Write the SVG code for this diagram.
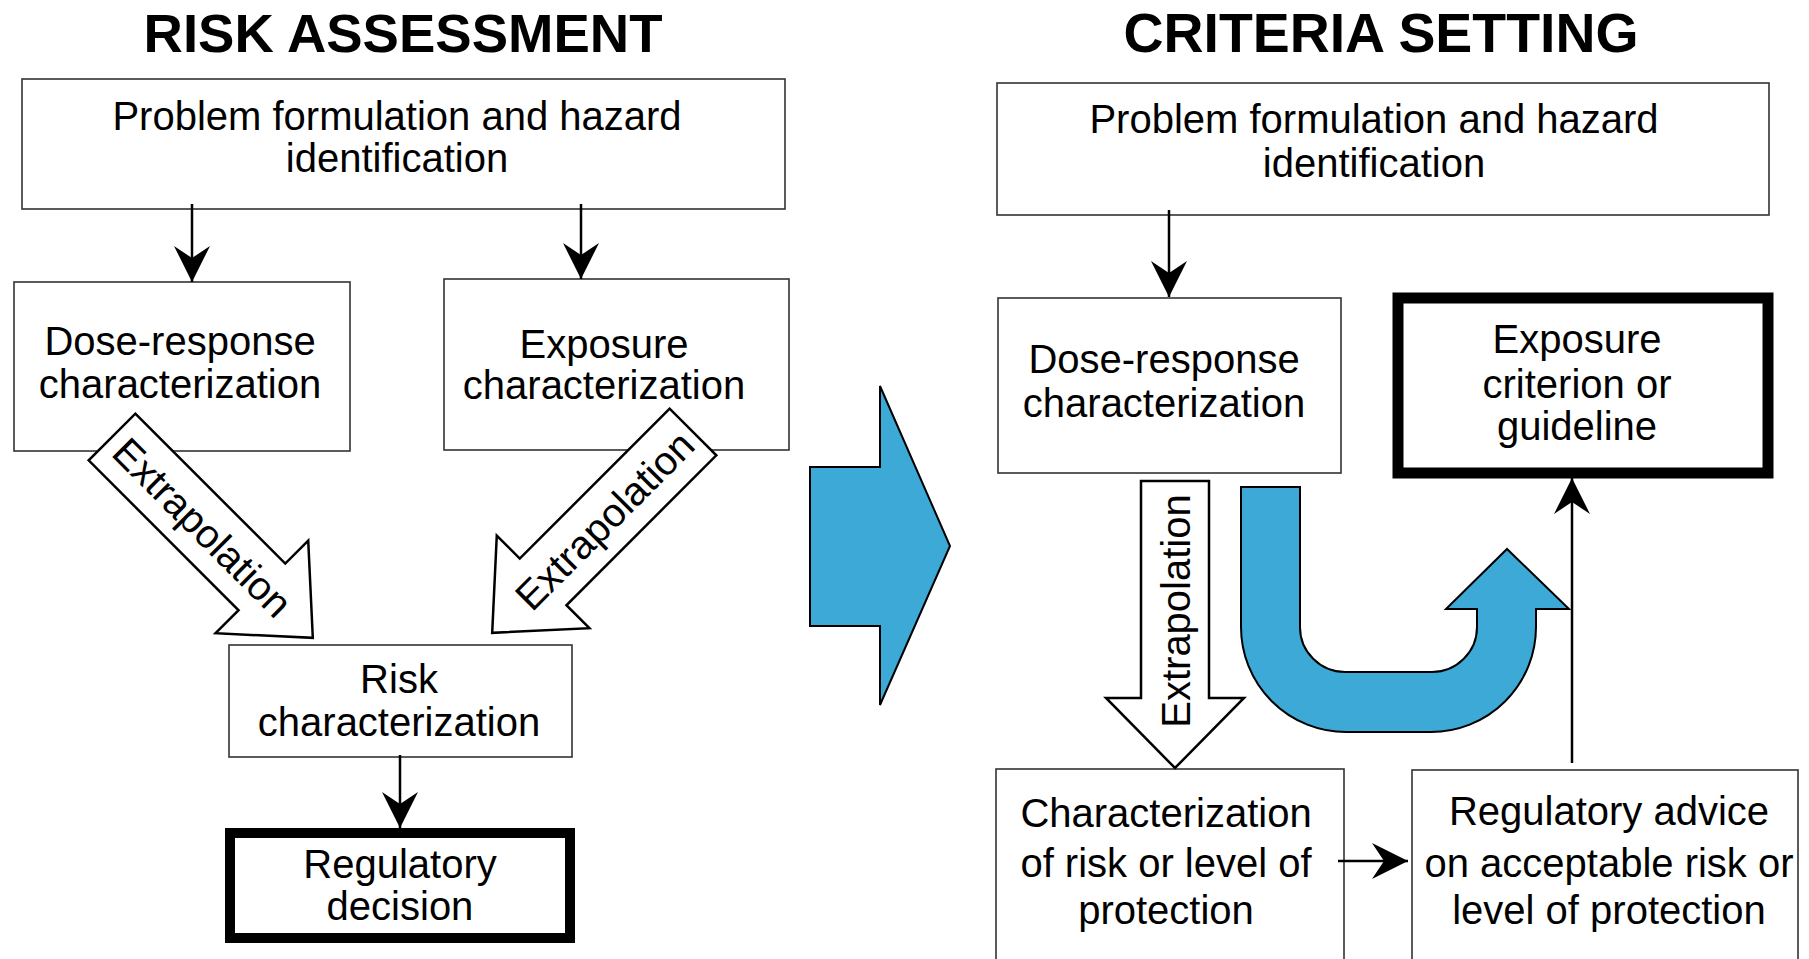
<svg xmlns="http://www.w3.org/2000/svg" width="1809" height="959" viewBox="0 0 1809 959">
<style>
.box{fill:#fff;stroke:#333;stroke-width:1.6}
.thick{fill:#fff;stroke:#000}
.t{font-family:"Liberation Sans",Arial,sans-serif;font-size:40px;fill:#000;text-anchor:middle}
.title{font-family:"Liberation Sans",Arial,sans-serif;font-size:54.5px;font-weight:bold;fill:#000;text-anchor:middle}
.conn{stroke:#000;stroke-width:2.5;fill:none}
.block{fill:#fff;stroke:#000;stroke-width:2.5;stroke-linejoin:miter}
.blue{fill:#3DA9D6;stroke:#000;stroke-width:2;stroke-linejoin:miter}
</style>
<defs>
<marker id="ah" markerUnits="userSpaceOnUse" viewBox="-37 -19 39 38" markerWidth="39" markerHeight="38" refX="0" refY="0" orient="auto">
<path d="M0,0 L-36,-18 L-24,0 L-36,18 Z" fill="#000"/>
</marker>
</defs>

<g id="titles">
<text class="title" x="403" y="52">RISK ASSESSMENT</text>
<text class="title" x="1381" y="52" style="font-size:55.4px">CRITERIA SETTING</text>
</g>

<!-- Left: risk assessment -->
<g id="ra-problem">
<rect class="box" x="22" y="79" width="763" height="130"/>
<text class="t" x="397" y="130">Problem formulation and hazard</text>
<text class="t" x="397" y="172">identification</text>
</g>
<g id="ra-dose">
<rect class="box" x="14" y="282" width="336" height="169"/>
<text class="t" x="180" y="355">Dose-response</text>
<text class="t" x="180" y="398">characterization</text>
</g>
<g id="ra-exposure">
<rect class="box" x="444" y="279" width="345" height="171"/>
<text class="t" x="604" y="358">Exposure</text>
<text class="t" x="604" y="399">characterization</text>
</g>
<g id="ra-risk">
<rect class="box" x="229" y="645" width="343" height="112"/>
<text class="t" x="399" y="693">Risk</text>
<text class="t" x="399" y="736">characterization</text>
</g>
<g id="ra-decision">
<rect class="thick" x="230" y="833" width="340" height="105" stroke-width="10"/>
<text class="t" x="400" y="878">Regulatory</text>
<text class="t" x="400" y="920">decision</text>
</g>

<!-- Right: criteria setting -->
<g id="cs-problem">
<rect class="box" x="997" y="83" width="772" height="132"/>
<text class="t" x="1374" y="133">Problem formulation and hazard</text>
<text class="t" x="1374" y="177">identification</text>
</g>
<g id="cs-dose">
<rect class="box" x="998" y="298" width="343" height="175"/>
<text class="t" x="1164" y="373">Dose-response</text>
<text class="t" x="1164" y="417">characterization</text>
</g>
<g id="cs-criterion">
<rect class="thick" x="1398" y="298" width="370" height="175" stroke-width="11"/>
<text class="t" x="1577" y="353">Exposure</text>
<text class="t" x="1577" y="398">criterion or</text>
<text class="t" x="1577" y="440">guideline</text>
</g>
<g id="cs-characterization">
<rect class="box" x="996" y="769" width="348" height="210"/>
<text class="t" x="1166" y="827">Characterization</text>
<text class="t" x="1166" y="877">of risk or level of</text>
<text class="t" x="1166" y="924">protection</text>
</g>
<g id="cs-advice">
<rect class="box" x="1412" y="770" width="386" height="210"/>
<text class="t" x="1609" y="825">Regulatory advice</text>
<text class="t" x="1609" y="877">on acceptable risk or</text>
<text class="t" x="1609" y="924">level of protection</text>
</g>

<g id="connectors">
<line class="conn" x1="192" y1="204" x2="192" y2="282" marker-end="url(#ah)"/>
<line class="conn" x1="581" y1="204" x2="581" y2="279" marker-end="url(#ah)"/>
<line class="conn" x1="400" y1="755" x2="400" y2="828" marker-end="url(#ah)"/>
<line class="conn" x1="1169" y1="210" x2="1169" y2="297" marker-end="url(#ah)"/>
<line class="conn" x1="1338" y1="861" x2="1408" y2="861" marker-end="url(#ah)"/>
<line class="conn" x1="1572" y1="763" x2="1572" y2="478" marker-end="url(#ah)"/>

<g id="extrap-left" transform="translate(112,437) rotate(45)">
<path class="block" d="M0,-33 L212,-33 L212,-65.5 L284,0 L212,65.5 L212,33 L0,33 Z"/>
<text class="t" x="128" y="14">Extrapolation</text>
</g>
<g id="extrap-right" transform="translate(693,432) rotate(-45)">
<path class="block" d="M0,-33 L-212,-33 L-212,-65.5 L-284,0 L-212,65.5 L-212,33 L0,33 Z"/>
<text class="t" x="-125" y="14">Extrapolation</text>
</g>
<g id="extrap-down">
<path class="block" d="M1141,481 L1209,481 L1209,698 L1244,698 L1175,768 L1106,698 L1141,698 Z"/>
<text class="t" transform="translate(1190,611) rotate(-90)" x="0" y="0">Extrapolation</text>
</g>

<path id="big-arrow" class="blue" d="M810,467 L880,467 L880,386 L950,546 L880,705 L880,626 L810,626 Z"/>
<path id="u-arrow" class="blue" d="M1241,487 L1300,487 L1300,627 A45,45 0 0 0 1345,672 L1432,672 A45,45 0 0 0 1477,627 L1477,609 L1446,609 L1507,549 L1569,609 L1536,609 L1536,627 A105,105 0 0 1 1431,732 L1346,732 A105,105 0 0 1 1241,627 Z"/>
</g>
</svg>
